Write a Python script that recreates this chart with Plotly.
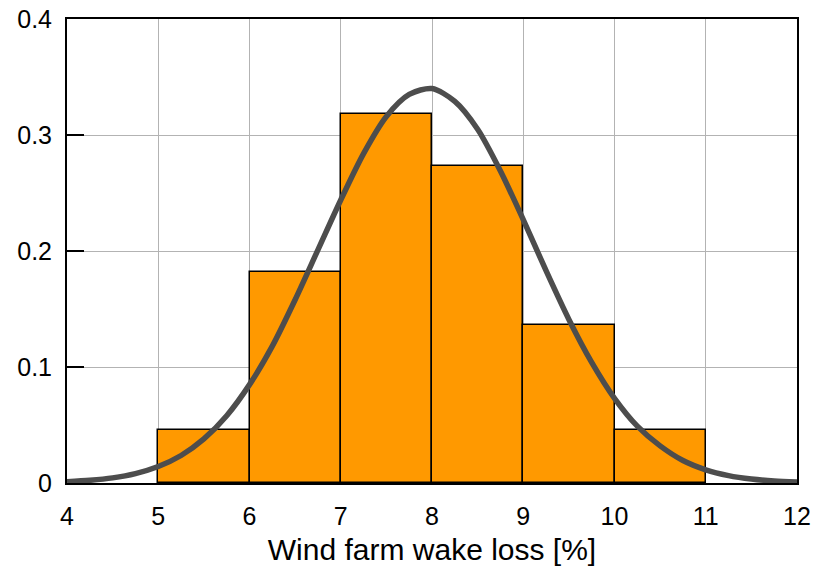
import plotly.graph_objects as go

# Histogram bins (left edges) and densities
bin_left = [5, 6, 7, 8, 9, 10]
bin_width = [1, 1, 1, 1, 1, 1]
density = [0.0455, 0.182, 0.318, 0.273, 0.136, 0.0455]

# Fitted curve points
curve_x = [4, 4.25, 4.5, 4.75, 5, 5.25, 5.5, 5.75, 6, 6.25, 6.5, 6.75, 7, 7.25,
           7.5, 7.75, 8, 8.25, 8.5, 8.75, 9, 9.25, 9.5, 9.75, 10, 10.25, 10.5,
           10.75, 11, 11.25, 11.5, 11.75, 12]
curve_y = [0.0011, 0.0023, 0.0044, 0.0081, 0.0142, 0.0237, 0.038, 0.058, 0.0848,
           0.118, 0.158, 0.201, 0.244, 0.284, 0.316, 0.335, 0.340, 0.329, 0.305,
           0.269, 0.227, 0.183, 0.141, 0.104, 0.073, 0.049, 0.032, 0.0194,
           0.0114, 0.0064, 0.0034, 0.0017, 0.0009]

x_ticks = [4, 5, 6, 7, 8, 9, 10, 11, 12]
y_ticks = [0, 0.1, 0.2, 0.3, 0.4]
y_tick_text = ["0", "0.1", "0.2", "0.3", "0.4"]

fig = go.Figure()
fig.add_trace(go.Bar(
    x=bin_left, y=density, width=bin_width, offset=0,
    marker=dict(color="#FF9900", line=dict(color="black", width=1.5)),
    showlegend=False,
))
fig.add_trace(go.Scatter(
    x=curve_x, y=curve_y, mode="lines",
    line=dict(color="#4d4d4d", width=5.5, shape="spline", smoothing=0.8),
    showlegend=False, cliponaxis=False,
))

font = "Liberation Sans, Arial, sans-serif"
fig.update_layout(
    width=814, height=576,
    margin=dict(l=67, r=17, t=19, b=93, autoexpand=False),
    plot_bgcolor="white", paper_bgcolor="white",
    bargap=0,
    font=dict(family=font, size=25, color="black"),
    xaxis=dict(
        range=[4, 12], tickvals=x_ticks, ticktext=[str(v) for v in x_ticks],
        showgrid=True, gridcolor="#b3b3b3", gridwidth=1,
        showline=True, linecolor="black", linewidth=2, mirror=True,
        ticks="", zeroline=False, automargin=False, ticklabelstandoff=10,
        title=dict(text="Wind farm wake loss [%]", font=dict(size=30), standoff=10),
        tickfont=dict(size=25),
    ),
    yaxis=dict(
        range=[0, 0.4], tickvals=y_ticks, ticktext=y_tick_text,
        showgrid=True, gridcolor="#b3b3b3", gridwidth=1,
        showline=True, linecolor="black", linewidth=2, mirror=True,
        ticks="inside", ticklen=17, tickwidth=2, tickcolor="black",
        zeroline=False, automargin=False, ticklabelstandoff=8,
        tickfont=dict(size=25),
    ),
)

fig.write_html("out.html")
